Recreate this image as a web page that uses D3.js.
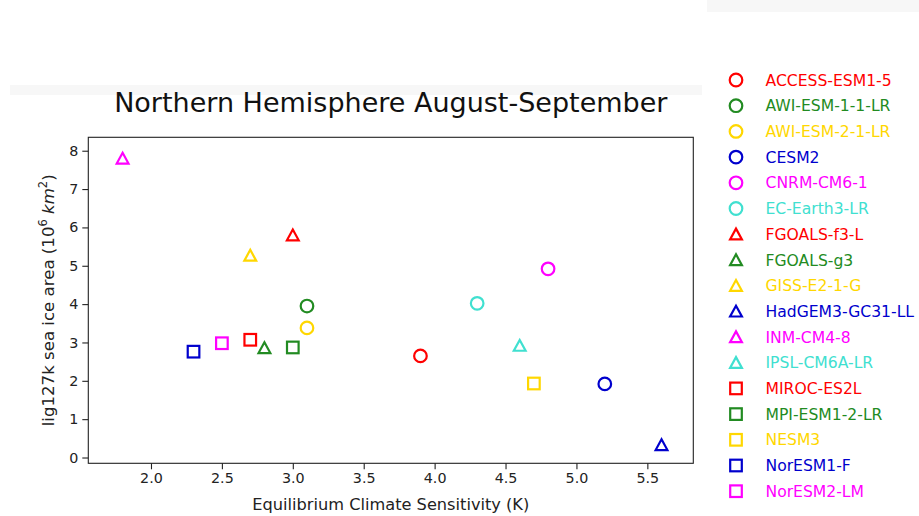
<!DOCTYPE html>
<html>
<head>
<meta charset="utf-8">
<script src="https://cdn.jsdelivr.net/npm/d3@7"></script>
<style>
  html, body { margin: 0; padding: 0; background: #fff; }
  svg { display: block; font-family: "DejaVu Sans", sans-serif; }
</style>
</head>
<body>
<svg id="chart" width="919" height="516"></svg>
<script>
// ---------- data ----------
const models = [
  "ACCESS-ESM1-5", "AWI-ESM-1-1-LR", "AWI-ESM-2-1-LR", "CESM2", "CNRM-CM6-1",
  "EC-Earth3-LR", "FGOALS-f3-L", "FGOALS-g3", "GISS-E2-1-G", "HadGEM3-GC31-LL",
  "INM-CM4-8", "IPSL-CM6A-LR", "MIROC-ES2L", "MPI-ESM1-2-LR", "NESM3",
  "NorESM1-F", "NorESM2-LM"
];
const ecs = [3.9, 3.1, 3.1, 5.2, 4.8, 4.3, 3.0, 2.8, 2.7, 5.6, 1.8, 4.6, 2.7, 3.0, 4.7, 2.3, 2.5];
const iceArea = [2.65, 3.95, 3.38, 1.92, 4.92, 4.02, 5.8, 2.86, 5.27, 0.33, 7.8, 2.92, 3.07, 2.87, 1.93, 2.76, 2.98];
const xTicks = [2.0, 2.5, 3.0, 3.5, 4.0, 4.5, 5.0, 5.5];
const yTicks = [0, 1, 2, 3, 4, 5, 6, 7, 8];

// ---------- styles ----------
const palette = ["#ff0000", "#228b22", "#ffd700", "#0000cd", "#ff00ff", "#40e0d0"];
const shapeOrder = ["circle", "triangle", "square"];
const colorOf = i => palette[i % 6];
const shapeOf = i => shapeOrder[Math.floor(i / 6)];

const svg = d3.select("#chart");
const plot = { left: 88.3, right: 693.3, top: 137.3, bottom: 463.3 };

// faint background bands seen in the screenshot
svg.append("rect").attr("x", 10).attr("y", 85).attr("width", 692).attr("height", 10).attr("fill", "#f7f7f7");
svg.append("rect").attr("x", 707).attr("y", 0).attr("width", 212).attr("height", 12).attr("fill", "#f7f7f7");

const x = d3.scaleLinear().domain([1.558, 5.824]).range([plot.left, plot.right]);
const y = d3.scaleLinear().domain([-0.151, 8.35]).range([plot.bottom, plot.top]);

function marker(sel, shape, color) {
  const sw = 2.2;
  if (shape === "circle") {
    sel.append("circle").attr("r", 6.3)
      .attr("fill", "none").attr("stroke", color).attr("stroke-width", sw);
  } else if (shape === "square") {
    sel.append("rect").attr("x", -5.8).attr("y", -5.8).attr("width", 11.6).attr("height", 11.6)
      .attr("fill", "none").attr("stroke", color).attr("stroke-width", sw);
  } else {
    sel.append("path").attr("d", "M0,-5.6L5.9,5.2L-5.9,5.2Z")
      .attr("fill", "none").attr("stroke", color).attr("stroke-width", sw)
      .attr("stroke-linejoin", "miter");
  }
}

// ---------- axes ----------
const xAxis = svg.append("g")
  .attr("transform", `translate(0,${plot.bottom})`)
  .call(d3.axisBottom(x).tickValues(xTicks).tickFormat(d3.format(".1f")).tickSize(6).tickPadding(4));
const yAxis = svg.append("g")
  .attr("transform", `translate(${plot.left},0)`)
  .call(d3.axisLeft(y).tickValues(yTicks).tickFormat(d3.format("d")).tickSize(6).tickPadding(4));

[xAxis, yAxis].forEach(a => {
  a.select(".domain").remove();
  a.selectAll("line").attr("stroke", "#222").attr("stroke-width", 1.1);
  a.selectAll("text").attr("font-family", "DejaVu Sans").attr("font-size", 14.3).attr("fill", "#222");
});

svg.append("rect")
  .attr("x", plot.left).attr("y", plot.top)
  .attr("width", plot.right - plot.left).attr("height", plot.bottom - plot.top)
  .attr("fill", "none").attr("stroke", "#222").attr("stroke-width", 1.1);

// ---------- points ----------
svg.append("g").selectAll("g")
  .data(models.map((m, i) => i))
  .join("g")
  .attr("transform", i => `translate(${x(ecs[i])},${y(iceArea[i])})`)
  .each(function(i) { marker(d3.select(this), shapeOf(i), colorOf(i)); });

// ---------- labels ----------
svg.append("text")
  .attr("x", (plot.left + plot.right) / 2).attr("y", 111.7)
  .attr("text-anchor", "middle").attr("font-size", 27).attr("fill", "#111")
  .text("Northern Hemisphere August-September");

svg.append("text")
  .attr("x", (plot.left + plot.right) / 2).attr("y", 510)
  .attr("text-anchor", "middle").attr("font-size", 16.2).attr("fill", "#222")
  .text("Equilibrium Climate Sensitivity (K)");

const yl = svg.append("text")
  .attr("transform", `translate(54,${(plot.top + plot.bottom) / 2}) rotate(-90)`)
  .attr("text-anchor", "middle").attr("font-size", 16.6).attr("fill", "#222");
yl.append("tspan").text("lig127k sea ice area (10");
yl.append("tspan").attr("font-size", 11.5).attr("dy", -6.8).text("6");
yl.append("tspan").attr("dy", 6.8).text(" ");
yl.append("tspan").attr("font-style", "italic").text("km");
yl.append("tspan").attr("font-size", 11.5).attr("dy", -6.8).text("2");
yl.append("tspan").attr("dy", 6.8).text(")");

// ---------- legend ----------
const legend = svg.append("g").selectAll("g")
  .data(models.map((m, i) => i))
  .join("g")
  .attr("transform", i => `translate(736,${80 + 25.7 * i})`);
legend.each(function(i) { marker(d3.select(this), shapeOf(i), colorOf(i)); });
legend.append("text")
  .attr("x", 29.5).attr("y", 5.6)
  .attr("font-size", 15.6)
  .attr("fill", i => colorOf(i))
  .text(i => models[i]);
</script>
</body>
</html>
